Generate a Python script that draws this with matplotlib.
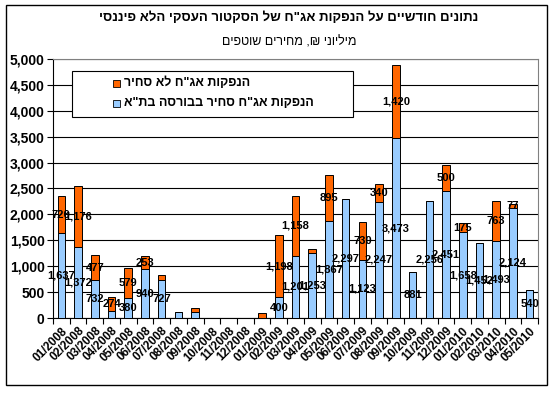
import numpy as np
import matplotlib
matplotlib.use("Agg")
import matplotlib.pyplot as plt
import matplotlib.transforms as mtransforms
from matplotlib.patches import Rectangle

plt.rcParams["font.family"] = ["Liberation Sans", "DejaVu Sans"]

# ---- data (millions NIS) ----
months = ["01/2008", "02/2008", "03/2008", "04/2008", "05/2008", "06/2008",
          "07/2008", "08/2008", "09/2008", "10/2008", "11/2008", "12/2008",
          "01/2009", "02/2009", "03/2009", "04/2009", "05/2009", "06/2009",
          "07/2009", "08/2009", "09/2009", "10/2009", "11/2009", "12/2009",
          "01/2010", "02/2010", "03/2010", "04/2010", "05/2010"]
traded = [1637, 1372, 732, 130, 380, 940, 727, 122, 122, 0, 0, 0,
          0, 400, 1201, 1253, 1867, 2297, 1123, 2247, 3473, 881, 2256, 2451,
          1658, 1452, 1493, 2124, 540]
non_traded = [720, 1176, 477, 274, 579, 253, 103, 0, 65, 0, 0, 0,
              95, 1198, 1158, 80, 895, 0, 730, 340, 1420, 0, 0, 500,
              175, 0, 763, 77, 0]
# which segments carry a visible data label
traded_lbl = [1, 1, 1, 0, 1, 1, 1, 0, 0, 0, 0, 0,
              0, 1, 1, 1, 1, 1, 1, 1, 1, 1, 1, 1,
              1, 1, 1, 1, 1]
non_traded_lbl = [1, 1, 1, 1, 1, 1, 0, 0, 0, 0, 0, 0,
                  0, 1, 1, 0, 1, 0, 1, 1, 1, 0, 0, 1,
                  1, 0, 1, 1, 0]

title = 'נתונים חודשיים על הנפקות אג"ח של הסקטור העסקי הלא פיננסי'
subtitle = "מיליוני ₪, מחירים שוטפים"
lbl_non_traded = 'הנפקות אג"ח לא סחיר'
lbl_traded = 'הנפקות אג"ח סחיר בבורסה בת"א'

BLUE = "#99CCFF"
ORANGE = "#FF6600"
W, H = 556, 395


def heb(s):
    # matplotlib has no bidi: feed visual order
    return s[::-1]


def fx(px):
    return px / W


def fy(py):
    return 1 - py / H


fig = plt.figure(figsize=(W / 100, H / 100), dpi=100)
fig.patch.set_facecolor("white")

# chart area border
fig.patches.append(Rectangle((fx(6), fy(385)), fx(541), 380 / H,
                             transform=fig.transFigure, fill=False,
                             edgecolor="black", linewidth=1.0))

fig.text(fx(289), fy(18), heb(title), ha="center", va="center",
         fontsize=9.5, fontweight="bold")
fig.text(fx(289), fy(42), heb(subtitle), ha="center", va="center",
         fontsize=9)

ax = fig.add_axes([fx(53), fy(318), fx(485), 259 / H])
x = np.arange(len(months))
t = np.array(traded)
n = np.array(non_traded)
bw = 0.45
ax.bar(x, t, bw, color=BLUE, edgecolor="black", linewidth=0.7, zorder=3)
ax.bar(x, n, bw, bottom=t, color=ORANGE, edgecolor="black",
       linewidth=0.7, zorder=3)

lbl_kw = dict(ha="center", va="center", fontsize=8, fontweight="bold",
              zorder=5)
for i in range(len(months)):
    if traded_lbl[i]:
        ax.text(x[i], t[i] / 2, f"{t[i]:,}", **lbl_kw)
    if non_traded_lbl[i]:
        ax.text(x[i], t[i] + n[i] / 2, f"{n[i]:,}", **lbl_kw)

ax.set_xlim(-0.5, len(months) - 0.5)
ax.set_ylim(0, 5000)
ax.set_yticks(np.arange(0, 5001, 500))
ax.set_yticklabels([f"{v:,}" for v in range(0, 5001, 500)],
                   fontsize=10, fontweight="bold")
ax.grid(axis="y", color="black", linewidth=0.8, zorder=0)

ax.set_xticks(x)
ax.set_xticklabels(months, rotation=45, ha="right", va="top",
                   rotation_mode="anchor", fontsize=8.5, fontweight="bold")
shift = mtransforms.ScaledTranslation(-4 / 100, 0, fig.dpi_scale_trans)
for lab in ax.get_xticklabels():
    lab.set_transform(lab.get_transform() + shift)
ax.tick_params(axis="x", length=0, pad=5)
ax.set_xticks(np.arange(-0.5, len(months)), minor=True)
ax.tick_params(axis="x", which="minor", length=4, width=0.8,
               direction="out")
ax.tick_params(axis="y", length=4, width=0.8, direction="out", pad=2)

for s in ("top", "right"):
    ax.spines[s].set_color("#808080")
for s in ("left", "bottom"):
    ax.spines[s].set_color("black")
for sp in ax.spines.values():
    sp.set_linewidth(0.8)

# legend box (Excel-style, drawn by hand)
fig.patches.append(Rectangle((fx(72), fy(117)), fx(281), 46 / H,
                             transform=fig.transFigure, facecolor="white",
                             edgecolor="black", linewidth=0.8, zorder=10))
for yy, col, lab in [(83, ORANGE, lbl_non_traded), (103, BLUE, lbl_traded)]:
    fig.patches.append(Rectangle((fx(113), fy(yy + 3.5)), fx(7), 7 / H,
                                 transform=fig.transFigure, facecolor=col,
                                 edgecolor="black", linewidth=0.6,
                                 zorder=11))
    fig.text(fx(124), fy(yy), heb(lab), ha="left", va="center",
             fontsize=9, fontweight="bold", zorder=12)

fig.savefig("out.png", dpi=100, facecolor="white")
